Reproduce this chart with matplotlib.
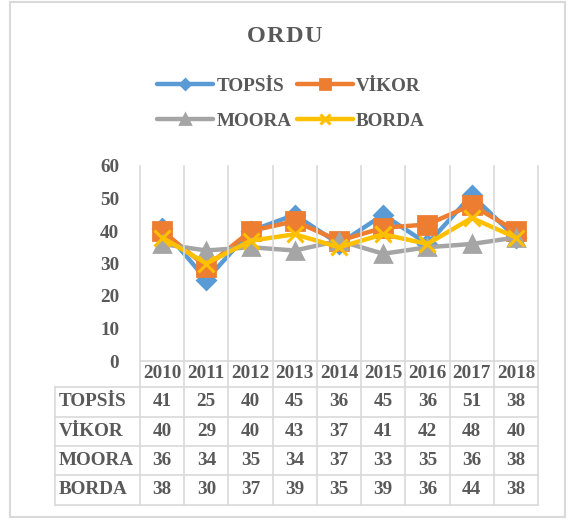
import matplotlib
matplotlib.use("Agg")
import matplotlib.pyplot as plt
from matplotlib.lines import Line2D
from matplotlib.patches import Rectangle
from matplotlib.transforms import blended_transform_factory

years = ["2010", "2011", "2012", "2013", "2014", "2015", "2016", "2017", "2018"]
topsis = [41, 25, 40, 45, 36, 45, 36, 51, 38]
vikor = [40, 29, 40, 43, 37, 41, 42, 48, 40]
moora = [36, 34, 35, 34, 37, 33, 35, 36, 38]
borda = [38, 30, 37, 39, 35, 39, 36, 44, 38]
series_names = ["TOPSİS", "VİKOR", "MOORA", "BORDA"]
y_ticks = [0, 10, 20, 30, 40, 50, 60]
title = "ORDU"

W, H = 569, 520
TXT = "#595959"
GRID = "#D9D9D9"
FONT = ["Liberation Serif", "DejaVu Serif"]
FS = 13.8

plt.rcParams["font.family"] = FONT
plt.rcParams["font.weight"] = "bold"

fig = plt.figure(figsize=(W / 100, H / 100), dpi=100)


def fx(px):
    return px / W


def fy(py):
    return 1 - py / H


# plot area in pixel layout
PL, PR, PT, PB = 140, 538, 166, 361
ax = fig.add_axes([fx(PL), fy(PB), (PR - PL) / W, (PB - PT) / H])
ax.set_xlim(0, len(years))
ax.set_ylim(0, 60)
for s in ax.spines.values():
    s.set_visible(False)
ax.set_xticks([])
ax.set_yticks(y_ticks)
ax.set_yticklabels([str(t) for t in y_ticks], fontsize=FS, fontweight="bold", color=TXT)
ax.tick_params(axis="y", length=0, pad=15)

styles = [
    ("#5B9BD5", "D", 9, 2.0),
    ("#ED7D31", "s", 12.5, 2.0),
    ("#A5A5A5", "^", 12, 2.0),
    ("#FFC000", "x", 12, 2.2),
]
data = [topsis, vikor, moora, borda]
xs = [i + 0.5 for i in range(len(years))]
handles = []
for name, vals, (col, mk, ms, mew) in zip(series_names, data, styles):
    (h,) = ax.plot(xs, vals, color=col, lw=3.2, marker=mk, ms=ms,
                   mfc=col, mec=col, mew=mew, label=name,
                   solid_capstyle="round", zorder=3)
    handles.append(h)

# spaced-out title letters
for k, ch in enumerate(title):
    fig.text(fx(256 + 19.2 * k), fy(37), ch, ha="center", va="center",
             fontsize=17.5, fontweight="bold", color=TXT)

# legend, filled row by row
order = [0, 2, 1, 3]
leg = fig.legend([handles[i] for i in order], [series_names[i] for i in order],
                 ncol=2, loc="center", bbox_to_anchor=(fx(291), fy(103.5)),
                 frameon=False, fontsize=FS, handlelength=2.9, markerscale=0.55,
                 handletextpad=0.18, columnspacing=0.3, labelspacing=0.9,
                 borderpad=0, borderaxespad=0)
for t in leg.get_texts():
    t.set_color(TXT)
    t.set_fontweight("bold")

# data table below the axis
bt = blended_transform_factory(ax.transData, fig.transFigure)
TABLE_BOTTOM = 505
HEADER_LEFT = 55
row_lines = [387, 417, 446, 475, 505]

for i in range(len(years) + 1):
    fig.add_artist(Line2D([i, i], [fy(PT), fy(TABLE_BOTTOM)], transform=bt,
                          color=GRID, lw=1.2, zorder=1))
fig.add_artist(Line2D([fx(PL), fx(PR)], [fy(PB), fy(PB)], color=GRID, lw=1.2))
for ry in row_lines:
    fig.add_artist(Line2D([fx(HEADER_LEFT), fx(PR)], [fy(ry), fy(ry)], color=GRID, lw=1.2))
fig.add_artist(Line2D([fx(HEADER_LEFT), fx(HEADER_LEFT)], [fy(row_lines[0]), fy(TABLE_BOTTOM)],
                      color=GRID, lw=1.2))

for x, yr in zip(xs, years):
    fig.text(x, fy((PB + row_lines[0]) / 2), yr, transform=bt, ha="center", va="center",
             fontsize=FS, fontweight="bold", color=TXT)

for r, (name, vals) in enumerate(zip(series_names, data)):
    cy = fy((row_lines[r] + row_lines[r + 1]) / 2)
    fig.text(fx(59), cy, name, ha="left", va="center", fontsize=FS,
             fontweight="bold", color=TXT)
    for x, v in zip(xs, vals):
        fig.text(x, cy, str(v), transform=bt, ha="center", va="center",
                 fontsize=FS, fontweight="bold", color=TXT)

# chart frame
fig.add_artist(Rectangle((fx(10), fy(517)), fx(565) - fx(10), fy(2) - fy(517),
                         fill=False, edgecolor=GRID, lw=1.5, transform=fig.transFigure))

fig.savefig("out.png", dpi=100)
